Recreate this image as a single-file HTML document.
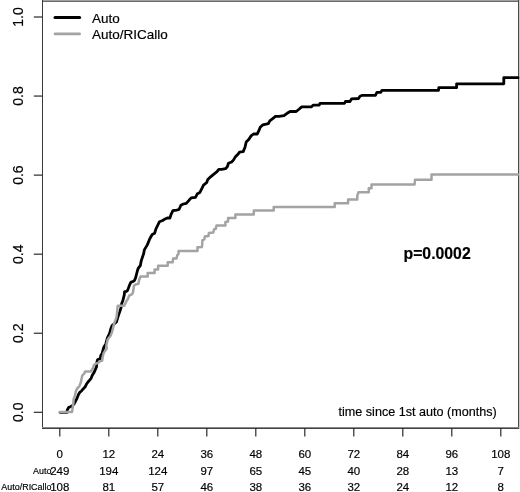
<!DOCTYPE html>
<html><head><meta charset="utf-8"><style>
html,body{margin:0;padding:0;background:#fff;}
body{width:520px;height:492px;overflow:hidden;}
svg{display:block;font-family:"Liberation Sans", sans-serif;filter:grayscale(1);}
text{fill:#000;stroke:#000;stroke-width:0.18px;}
</style></head><body>
<svg width="520" height="492" viewBox="0 0 520 492">
<rect x="42" y="0" width="477" height="1" fill="#a0a0a0"/>
<rect x="42" y="1" width="477" height="1" fill="#6a6a6a"/>
<rect x="42" y="0" width="1" height="429" fill="#3a3a3a"/>
<rect x="518" y="0" width="1" height="429" fill="#4a4a4a"/>
<rect x="519" y="0" width="1" height="429" fill="#c8c8c8"/>
<rect x="42" y="427" width="477" height="1" fill="#888"/>
<rect x="42" y="428" width="477" height="1" fill="#444"/>
<line x1="33.8" y1="412.30" x2="42.5" y2="412.30" stroke="#2a2a2a" stroke-width="1.2"/>
<line x1="33.8" y1="333.24" x2="42.5" y2="333.24" stroke="#2a2a2a" stroke-width="1.2"/>
<line x1="33.8" y1="254.18" x2="42.5" y2="254.18" stroke="#2a2a2a" stroke-width="1.2"/>
<line x1="33.8" y1="175.12" x2="42.5" y2="175.12" stroke="#2a2a2a" stroke-width="1.2"/>
<line x1="33.8" y1="96.06" x2="42.5" y2="96.06" stroke="#2a2a2a" stroke-width="1.2"/>
<line x1="33.8" y1="17.00" x2="42.5" y2="17.00" stroke="#2a2a2a" stroke-width="1.2"/>
<line x1="59.80" y1="428" x2="59.80" y2="436.6" stroke="#2a2a2a" stroke-width="1.2"/>
<line x1="108.80" y1="428" x2="108.80" y2="436.6" stroke="#2a2a2a" stroke-width="1.2"/>
<line x1="157.80" y1="428" x2="157.80" y2="436.6" stroke="#2a2a2a" stroke-width="1.2"/>
<line x1="206.80" y1="428" x2="206.80" y2="436.6" stroke="#2a2a2a" stroke-width="1.2"/>
<line x1="255.80" y1="428" x2="255.80" y2="436.6" stroke="#2a2a2a" stroke-width="1.2"/>
<line x1="304.80" y1="428" x2="304.80" y2="436.6" stroke="#2a2a2a" stroke-width="1.2"/>
<line x1="353.80" y1="428" x2="353.80" y2="436.6" stroke="#2a2a2a" stroke-width="1.2"/>
<line x1="402.80" y1="428" x2="402.80" y2="436.6" stroke="#2a2a2a" stroke-width="1.2"/>
<line x1="451.80" y1="428" x2="451.80" y2="436.6" stroke="#2a2a2a" stroke-width="1.2"/>
<line x1="500.80" y1="428" x2="500.80" y2="436.6" stroke="#2a2a2a" stroke-width="1.2"/>
<text transform="translate(22.7,412.30) rotate(-90)" text-anchor="middle" font-size="14">0.0</text>
<text transform="translate(22.7,333.24) rotate(-90)" text-anchor="middle" font-size="14">0.2</text>
<text transform="translate(22.7,254.18) rotate(-90)" text-anchor="middle" font-size="14">0.4</text>
<text transform="translate(22.7,175.12) rotate(-90)" text-anchor="middle" font-size="14">0.6</text>
<text transform="translate(22.7,96.06) rotate(-90)" text-anchor="middle" font-size="14">0.8</text>
<text transform="translate(22.7,17.00) rotate(-90)" text-anchor="middle" font-size="14">1.0</text>
<text x="59.80" y="458" text-anchor="middle" font-size="11.5">0</text>
<text x="108.80" y="458" text-anchor="middle" font-size="11.5">12</text>
<text x="157.80" y="458" text-anchor="middle" font-size="11.5">24</text>
<text x="206.80" y="458" text-anchor="middle" font-size="11.5">36</text>
<text x="255.80" y="458" text-anchor="middle" font-size="11.5">48</text>
<text x="304.80" y="458" text-anchor="middle" font-size="11.5">60</text>
<text x="353.80" y="458" text-anchor="middle" font-size="11.5">72</text>
<text x="402.80" y="458" text-anchor="middle" font-size="11.5">84</text>
<text x="451.80" y="458" text-anchor="middle" font-size="11.5">96</text>
<text x="500.80" y="458" text-anchor="middle" font-size="11.5">108</text>
<text x="59.80" y="474.5" text-anchor="middle" font-size="11.5">249</text>
<text x="108.80" y="474.5" text-anchor="middle" font-size="11.5">194</text>
<text x="157.80" y="474.5" text-anchor="middle" font-size="11.5">124</text>
<text x="206.80" y="474.5" text-anchor="middle" font-size="11.5">97</text>
<text x="255.80" y="474.5" text-anchor="middle" font-size="11.5">65</text>
<text x="304.80" y="474.5" text-anchor="middle" font-size="11.5">45</text>
<text x="353.80" y="474.5" text-anchor="middle" font-size="11.5">40</text>
<text x="402.80" y="474.5" text-anchor="middle" font-size="11.5">28</text>
<text x="451.80" y="474.5" text-anchor="middle" font-size="11.5">13</text>
<text x="500.80" y="474.5" text-anchor="middle" font-size="11.5">7</text>
<text x="59.80" y="490.7" text-anchor="middle" font-size="11.5">108</text>
<text x="108.80" y="490.7" text-anchor="middle" font-size="11.5">81</text>
<text x="157.80" y="490.7" text-anchor="middle" font-size="11.5">57</text>
<text x="206.80" y="490.7" text-anchor="middle" font-size="11.5">46</text>
<text x="255.80" y="490.7" text-anchor="middle" font-size="11.5">38</text>
<text x="304.80" y="490.7" text-anchor="middle" font-size="11.5">36</text>
<text x="353.80" y="490.7" text-anchor="middle" font-size="11.5">32</text>
<text x="402.80" y="490.7" text-anchor="middle" font-size="11.5">24</text>
<text x="451.80" y="490.7" text-anchor="middle" font-size="11.5">12</text>
<text x="500.80" y="490.7" text-anchor="middle" font-size="11.5">8</text>
<text x="51.5" y="474.4" text-anchor="end" font-size="8.95">Auto</text>
<text x="51.5" y="490.3" text-anchor="end" font-size="8.95">Auto/RICallo</text>
<polyline points="60,412.3 67,412.3 67.2,410.2 68.7,407.4 70.4,406.7 72.6,405.6 74.3,403.5 75.8,400.6 77.2,397.8 78.6,394.2 79.7,392.4 81.5,391 82.9,389.2 85,387.1 86.4,384.3 88,382 89.4,380.4 91.1,378.3 92.2,375.5 94,372.6 95.4,369.4 96.5,366.9 96.8,362.7 97.5,359.8 99,359.1 100.4,358.4 100.7,355.6 102.2,353.1 103.9,347 105.7,344.2 107.4,337.8 109.6,333.5 110.7,329.1 112.1,325.6 116.4,322 118.1,316.3 119.6,312.1 121,307.8 121.7,303.5 122.8,300.7 124.3,294.9 124.6,291.7 126.8,291.3 127.8,289.9 129.6,284.9 131,282.1 132.8,281.7 134.6,280.3 135.6,277.8 136.7,273.5 137.8,269.3 138.8,267.5 140.3,265.7 141.2,260.9 143.7,253.5 144.3,249.9 147.3,244.9 149.8,238.8 152.2,234.5 154.6,233.3 155.9,229 159.5,221.7 162.6,220.5 164.4,219.3 167.4,218 169.9,218 171.1,214.4 172.9,210.7 176.6,210.1 179,209.5 180.9,205.2 183.3,204 186.3,203.4 189.4,199.8 191.2,197.9 195.5,197.3 197.4,193.7 199.9,192.4 202.3,187.6 203.5,185.1 206.6,182.7 207.8,179.6 210.9,176.6 213.9,174.1 217,171.7 218.8,169.3 221.8,169.3 225.5,168.7 227.3,166.8 228.5,163.2 231.6,162 233.4,160.1 235.2,157.1 237.7,154.6 239.5,152.2 243.2,151.6 245,147.3 246.2,142 248.7,139.5 251.1,135.9 253.5,134 257.2,134 259,130.4 260.2,127.3 262.7,124.9 265.1,124.3 268.2,123.7 270,120.6 272.4,118.8 275.5,116.3 279.1,116.3 284,115.7 287.1,113.3 290.1,111.5 296.2,111.5 299.3,109 301.5,106.9 311.5,106.9 313.1,105.1 319.2,105.1 320,103.3 344.6,103.3 345.4,101.5 350,101.5 351.5,98.9 358.5,98.5 360,96.2 362.3,95.3 375.4,95.3 376.9,92.3 380.8,92.3 382,90.3 438.5,90.3 438.8,87.7 456.6,87.7 456.6,83.8 503.8,83.8 503.8,77.7 518,77.7" fill="none" stroke="#000" stroke-width="2.8" stroke-linejoin="round" stroke-linecap="round"/>
<polyline points="60,412 72,412 72.6,408.4 73.3,404.2 73.6,399.2 75.1,395.6 75.8,391.4 77.2,388.5 79.3,386.4 80.7,382.8 81.2,380.4 82.3,375.5 84.4,373.3 85.1,371.5 90.8,371.5 92.9,368.3 94,364.8 96.1,363.7 98.6,362.7 100,361.2 102.2,360.5 102.5,357.7 103.2,354.8 103.5,353.4 105.7,349.9 106.7,348.5 106.4,345.6 107.1,342 107.8,339.2 110.6,335.7 112,332.1 113.1,327.8 114.2,323.4 116.4,317.7 117.1,312.8 117.4,307.8 117.8,305.7 124.2,305.7 125.3,303.5 126.3,301.4 127.7,299.3 129.2,295.6 130.7,294.9 132.1,294.1 133.1,292 133.9,285.6 136.3,284.2 138.5,283.8 138.8,281.3 139.5,278.9 140.6,276.6 147.7,276.5 147.7,273.1 154.6,273.1 154.6,269.6 158.1,269.6 158.1,265.8 167.7,265.8 167.7,262.3 172.7,262.3 173.1,258.6 176.5,258.5 177.3,255 178.5,254.2 178.5,251 197.5,251 197.5,247.2 202,247 202.4,240.2 204.4,239.4 204.8,236.5 208.5,236.1 208.9,232.9 213.3,232.5 214.1,229.2 215.8,228.8 216.5,225.4 225.4,225.4 225.4,221.9 228.1,221.5 228.1,218.1 235.4,218.1 235.4,214.4 253.8,214.4 253.8,210.6 273.7,210.6 273.7,207.1 334.7,207.1 334.7,203.2 348.1,203.2 348.1,199.6 357.3,199.6 357.3,195.7 358.5,192.2 368.8,192.2 368.8,188.3 371.5,188.2 371.5,184.4 414.6,184.4 415,179.8 431.5,179.8 431.5,174.4 518,174.4" fill="none" stroke="#a3a3a3" stroke-width="2.5" stroke-linejoin="round" stroke-linecap="round"/>
<line x1="55" y1="17.5" x2="79.6" y2="17.5" stroke="#000" stroke-width="3" stroke-linecap="round"/>
<line x1="55" y1="33.9" x2="79.6" y2="33.9" stroke="#a3a3a3" stroke-width="2.7" stroke-linecap="round"/>
<text x="92" y="22.8" font-size="13.5">Auto</text>
<text x="92" y="38.7" font-size="13.5">Auto/RICallo</text>
<text x="403.5" y="259" font-size="15.8" font-weight="bold">p=0.0002</text>
<text x="338.5" y="415.9" font-size="12.6">time since 1st auto (months)</text>
</svg>
</body></html>
